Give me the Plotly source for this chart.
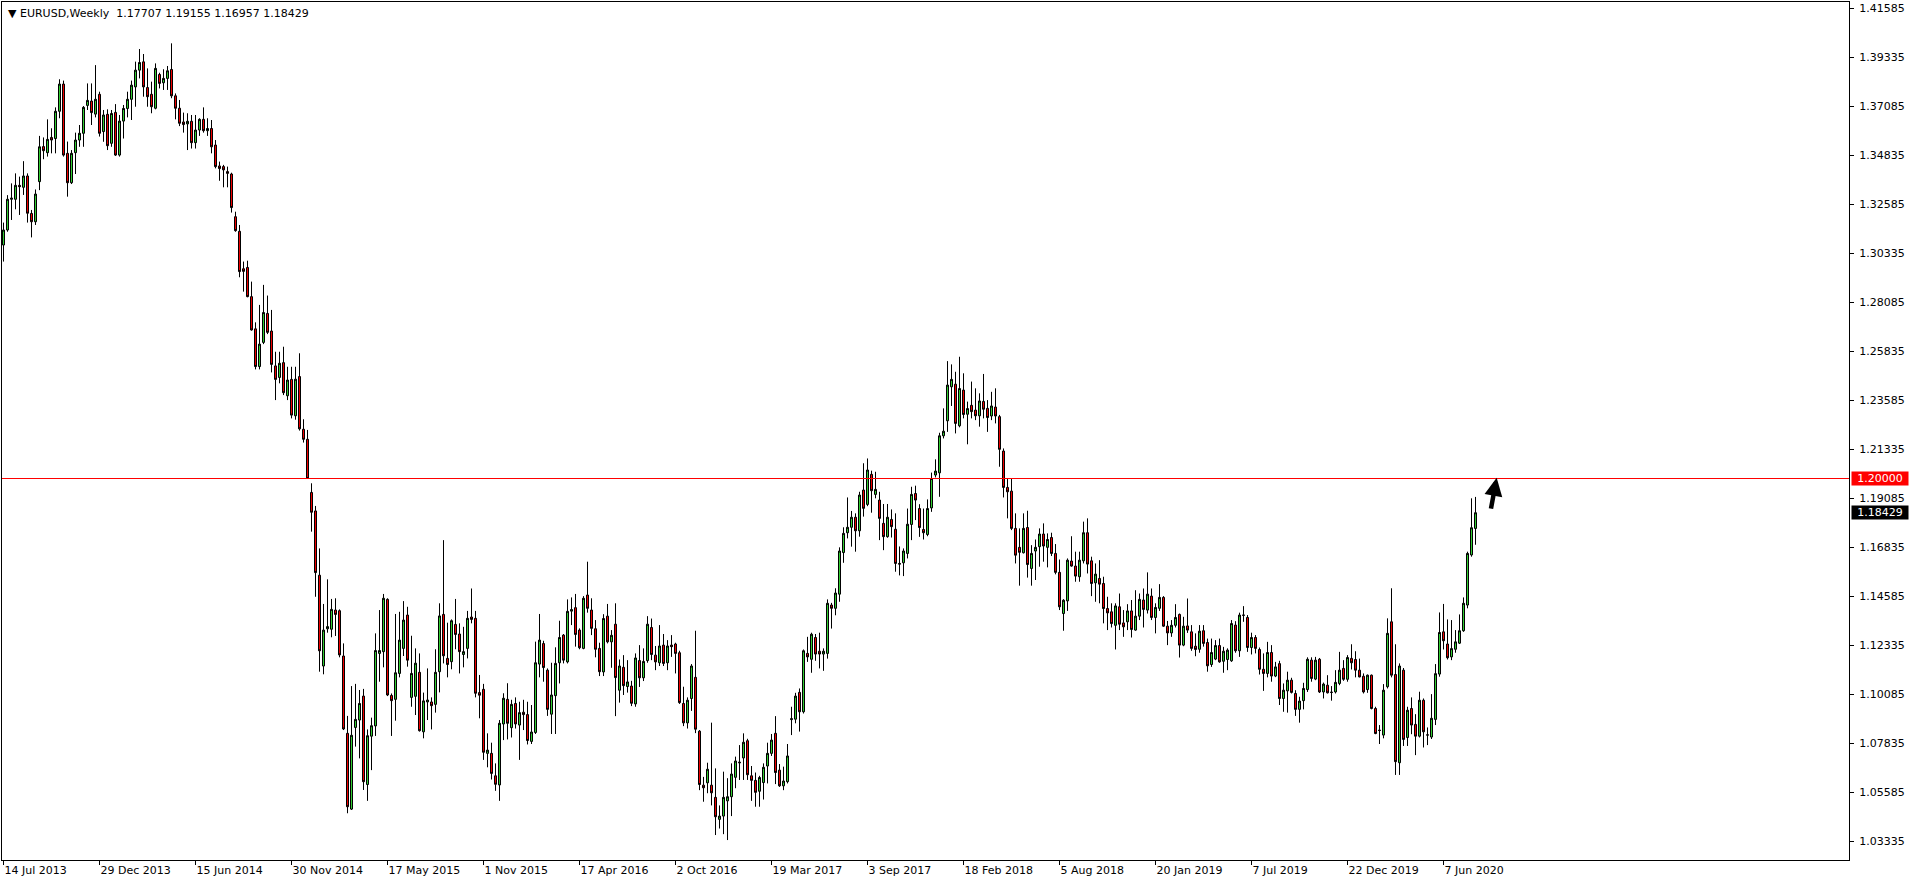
import plotly.graph_objects as go

# ---------------- data (EURUSD weekly) ----------------
opens = [
1.3072,1.3141,1.3282,1.3282,1.3346,1.3337,1.3389,1.3217,1.3179,1.3363,
1.3524,1.3496,1.3566,1.3561,1.3686,1.3811,1.3493,1.3358,1.3496,1.3554,
1.3585,1.3713,1.3733,1.3673,1.3764,1.3593,1.3672,1.3539,1.3681,1.3485,
1.3641,1.3699,1.3741,1.3798,1.3875,1.3913,1.3795,1.3764,1.3700,1.3855,
1.3817,1.3837,1.3878,1.3757,1.3700,1.3637,1.3628,1.3640,1.3542,1.3600,
1.3649,1.3597,1.3607,1.3531,1.3435,1.3432,1.3409,1.3398,1.3202,1.3135,
1.2963,1.2969,1.2835,1.2687,1.2514,1.2625,1.2758,1.2677,1.2517,1.2464,
1.2532,1.2380,1.2455,1.2288,1.2468,1.2226,1.2180,1.1936,1.1851,1.1556,
1.1139,1.1310,1.1308,1.1396,1.1393,1.1185,1.0830,1.0482,1.0857,1.0891,
1.1001,1.0595,1.0817,1.0864,1.1197,1.1205,1.1445,1.1004,1.0986,1.1105,
1.1220,1.1373,1.0995,1.1000,1.1110,1.0837,1.0974,1.0974,1.0963,1.1113,
1.1376,1.1174,1.1159,1.1330,1.1286,1.1192,1.1220,1.1364,1.1358,1.1017,
1.1032,1.0738,1.0738,1.0635,1.0593,1.0873,1.0986,1.0856,1.0967,1.0868,
1.0927,1.0916,1.0793,1.0834,1.1148,1.1242,1.1120,1.0918,1.1003,1.1154,
1.1281,1.1158,1.1391,1.1407,1.1304,1.1220,1.1465,1.1396,1.1310,1.1220,
1.1112,1.1368,1.1250,1.1331,1.1028,1.1133,1.1045,1.1047,1.0965,1.1164,
1.1085,1.1164,1.1316,1.1189,1.1154,1.1235,1.1154,1.1235,1.1240,1.1200,
1.0967,1.0878,1.0990,1.1087,1.0840,1.0592,1.0603,1.0592,1.0536,1.0435,
1.0450,1.0520,1.0539,1.0628,1.0698,1.0717,1.0796,1.0635,1.0614,1.0564,
1.0604,1.0680,1.0738,1.0830,1.0661,1.0589,1.0608,1.0893,1.0895,1.1018,
1.0929,1.1197,1.1170,1.1270,1.1207,1.1194,1.1197,1.1419,1.1404,1.1469,
1.1660,1.1751,1.1776,1.1822,1.1760,1.1947,1.1881,1.2019,1.1927,1.1901,
1.1794,1.1733,1.1812,1.1767,1.1610,1.1613,1.1656,1.1789,1.1931,1.1862,
1.1766,1.1743,1.1865,1.2016,1.2026,1.2196,1.2265,1.2421,1.2433,1.2242,
1.2406,1.2295,1.2336,1.2314,1.2288,1.2354,1.2322,1.2287,1.2328,1.2284,
1.2126,1.1959,1.1942,1.1771,1.1684,1.1659,1.1775,1.1587,1.1667,1.1687,
1.1745,1.1684,1.1729,1.1656,1.1569,1.1380,1.1438,1.1621,1.1598,1.1549,
1.1622,1.1751,1.1622,1.1521,1.1541,1.1518,1.1403,1.1388,1.1326,1.1411,
1.1337,1.1342,1.1392,1.1304,1.1368,1.1442,1.1396,1.1460,1.1362,1.1404,
1.1454,1.1322,1.1291,1.1326,1.1376,1.1235,1.1323,1.1296,1.1230,1.1216,
1.1301,1.1247,1.1146,1.1171,1.1233,1.1161,1.1169,1.1163,1.1327,1.1209,
1.1373,1.1362,1.1224,1.1270,1.1215,1.1124,1.1105,1.1201,1.1093,1.1150,
1.0990,1.1025,1.1074,1.1013,1.0940,1.0980,1.1031,1.1166,1.1079,1.1170,
1.1020,1.1051,1.1019,1.1020,1.1059,1.1128,1.1078,1.1174,1.1169,1.1120,
1.1092,1.1031,1.1097,1.0944,1.0845,1.0822,1.1044,1.1342,1.1100,1.0695,
1.1120,1.0811,1.0944,1.0871,1.0817,1.0982,1.0823,1.0813,1.0894,1.1102,
1.1296,1.1240,1.1181,1.1216,1.1244,1.1301,1.1419,1.1649,1.17707,
]
highs = [
1.3175,1.3301,1.3355,1.3401,1.3386,1.3457,1.3401,1.3233,1.3327,1.3573,
1.3566,1.3649,1.3608,1.3704,1.3833,1.3827,1.3547,1.3508,1.3588,1.3623,
1.3710,1.3814,1.3814,1.3898,1.3776,1.3692,1.3695,1.3692,1.3719,1.3669,
1.3715,1.3776,1.3827,1.3914,1.3972,1.3949,1.3883,1.3822,1.3906,1.3863,
1.3879,1.3894,1.3998,1.3768,1.3738,1.3680,1.3677,1.3669,1.3669,1.3654,
1.3704,1.3654,1.3646,1.3554,1.3455,1.3440,1.3432,1.3404,1.3225,1.3164,
1.2996,1.3000,1.2904,1.2717,1.2797,1.2889,1.2840,1.2774,1.2582,1.2582,
1.2605,1.2513,1.2513,1.2513,1.2575,1.2272,1.2223,1.1978,1.1874,1.1679,
1.1424,1.1537,1.1447,1.1450,1.1399,1.1243,1.0910,1.1047,1.1057,1.1029,
1.1034,1.0848,1.0902,1.1289,1.1396,1.1470,1.1450,1.1013,1.1378,1.1388,
1.1437,1.1411,1.1278,1.1220,1.1197,1.1017,1.1128,1.0995,1.1216,1.1427,
1.1717,1.1338,1.1353,1.1447,1.1335,1.1319,1.1392,1.1495,1.1392,1.1098,
1.1057,1.0830,1.0787,1.0692,1.0891,1.1014,1.1060,1.0984,1.0995,1.0975,
1.0984,1.0975,1.0960,1.1251,1.1378,1.1255,1.1128,1.1154,1.1225,1.1347,
1.1286,1.1445,1.1454,1.1470,1.1312,1.1460,1.1618,1.1450,1.1350,1.1246,
1.1377,1.1424,1.1304,1.1427,1.1169,1.1189,1.1166,1.1071,1.1197,1.1235,
1.1220,1.1368,1.1357,1.1231,1.1327,1.1286,1.1258,1.1281,1.1246,1.1209,
1.1044,1.0995,1.1148,1.1301,1.0845,1.0630,1.0695,1.0879,1.0669,1.0499,
1.0654,1.0624,1.0692,1.0723,1.0776,1.0830,1.0805,1.0680,1.0650,1.0635,
1.0692,1.0787,1.0827,1.0909,1.0689,1.0677,1.0781,1.0952,1.1016,1.1036,
1.1215,1.1273,1.1292,1.1286,1.1292,1.1220,1.1445,1.1429,1.1496,1.1684,
1.1776,1.1913,1.1851,1.1840,1.1939,1.2070,1.2092,1.2036,1.2031,1.1939,
1.1883,1.1883,1.1858,1.1840,1.1688,1.1679,1.1862,1.1962,1.1967,1.1882,
1.1862,1.1904,1.2027,1.2088,1.2210,1.2322,1.2539,1.2524,1.2490,1.2559,
1.2483,1.2353,1.2445,1.2414,1.2391,1.2480,1.2360,1.2398,1.2414,1.2292,
1.2138,1.2000,1.2000,1.1840,1.1771,1.1840,1.1852,1.1694,1.1720,1.1771,
1.1794,1.1748,1.1751,1.1699,1.1628,1.1446,1.1633,1.1735,1.1664,1.1664,
1.1802,1.1817,1.1641,1.1610,1.1625,1.1549,1.1457,1.1427,1.1427,1.1472,
1.1396,1.1423,1.1442,1.1487,1.1472,1.1495,1.1569,1.1495,1.1427,1.1515,
1.1460,1.1346,1.1350,1.1423,1.1380,1.1365,1.1449,1.1327,1.1289,1.1327,
1.1327,1.1265,1.1265,1.1258,1.1265,1.1227,1.1220,1.1350,1.1345,1.1384,
1.1414,1.1373,1.1292,1.1281,1.1224,1.1197,1.1250,1.1235,1.1158,1.1163,
1.1059,1.1113,1.1085,1.1028,1.0998,1.1062,1.1179,1.1179,1.1181,1.1176,
1.1063,1.1097,1.1047,1.1120,1.1204,1.1166,1.1189,1.1239,1.1207,1.1173,
1.1105,1.1100,1.1100,1.0952,1.0868,1.1056,1.1358,1.1496,1.1239,1.1151,
1.1130,1.0952,1.0995,1.0918,1.1021,1.0990,1.0857,1.1010,1.1148,1.1385,
1.1424,1.1353,1.1350,1.1304,1.1376,1.1454,1.1664,1.1909,1.19155,
]
lows = [
1.2996,1.3133,1.3187,1.3236,1.3210,1.3302,1.3175,1.3107,1.3164,1.3324,
1.3466,1.3478,1.3493,1.3493,1.3654,1.3478,1.3294,1.3352,1.3398,1.3523,
1.3523,1.3692,1.3623,1.3658,1.3570,1.3546,1.3508,1.3523,1.3481,1.3478,
1.3561,1.3658,1.3646,1.3707,1.3837,1.3753,1.3707,1.3677,1.3695,1.3791,
1.3784,1.3784,1.3746,1.3649,1.3618,1.3588,1.3508,1.3515,1.3515,1.3573,
1.3588,1.3573,1.3493,1.3424,1.3367,1.3337,1.3337,1.3221,1.3133,1.2924,
1.2858,1.2832,1.2679,1.2501,1.2501,1.2617,1.2663,1.2487,1.2360,1.2437,
1.2383,1.2360,1.2276,1.2270,1.2220,1.2165,1.1998,1.1756,1.1457,1.1113,
1.1101,1.1292,1.1271,1.1277,1.1179,1.0845,1.0463,1.0478,1.0769,1.0715,
1.0570,1.0520,1.0661,1.0818,1.1067,1.1133,1.1001,1.0818,1.0888,1.1087,
1.1185,1.1136,1.0952,1.0914,1.0838,1.0807,1.0891,1.0848,1.0925,1.1018,
1.1151,1.1087,1.1124,1.1216,1.1105,1.1133,1.1174,1.1335,1.0995,1.0899,
1.0708,1.0674,1.0618,1.0566,1.0520,1.0799,1.0802,1.0811,1.0852,1.0708,
1.0845,1.0779,1.0781,1.0827,1.1087,1.1067,1.0910,1.0827,1.0827,1.1059,
1.1151,1.1151,1.1327,1.1228,1.1216,1.1216,1.1384,1.1281,1.1179,1.1093,
1.1093,1.1243,1.1131,1.0909,1.0971,1.1006,1.1017,1.0955,1.0952,1.1043,
1.1070,1.1154,1.1166,1.1120,1.1139,1.1139,1.1120,1.1181,1.1105,1.0965,
1.0863,1.0852,1.0933,1.0831,1.0569,1.0516,1.0555,1.0499,1.0363,1.0393,
1.0367,1.0340,1.0450,1.0578,1.0616,1.0616,1.0616,1.0520,1.0493,1.0493,
1.0526,1.0600,1.0726,1.0597,1.0584,1.0569,1.0600,1.0822,1.0876,1.0838,
1.0921,1.1158,1.1108,1.1163,1.1128,1.1117,1.1173,1.1311,1.1372,1.1434,
1.1613,1.1725,1.1687,1.1664,1.1733,1.1825,1.1873,1.1843,1.1909,1.1717,
1.1671,1.1728,1.1729,1.1572,1.1555,1.1552,1.1633,1.1717,1.1809,1.1732,
1.1720,1.1735,1.1847,1.2005,1.1916,1.2184,1.2214,1.2333,1.2207,1.2235,
1.2276,1.2157,1.2276,1.2268,1.2238,1.2276,1.2214,1.2268,1.2253,1.2054,
1.1913,1.1817,1.1763,1.1610,1.1508,1.1656,1.1545,1.1508,1.1534,1.1595,
1.1618,1.1592,1.1644,1.1560,1.1396,1.1301,1.1392,1.1595,1.1526,1.1526,
1.1610,1.1564,1.1460,1.1434,1.1427,1.1335,1.1304,1.1316,1.1215,1.1304,
1.1273,1.1304,1.1270,1.1301,1.1350,1.1316,1.1380,1.1350,1.1289,1.1392,
1.1319,1.1235,1.1273,1.1316,1.1178,1.1230,1.1291,1.1209,1.1184,1.1200,
1.1228,1.1113,1.1135,1.1166,1.1154,1.1108,1.1120,1.1158,1.1200,1.1181,
1.1342,1.1204,1.1192,1.1197,1.1100,1.1025,1.1087,1.1067,1.1088,1.0960,
1.0929,1.0925,1.1013,1.0910,1.0879,1.0940,1.1020,1.1067,1.1074,1.1015,
1.0990,1.1013,1.0980,1.1013,1.1051,1.1071,1.1067,1.1123,1.1087,1.1087,
1.1013,1.1016,1.0940,1.0826,1.0781,1.0807,1.1036,1.1087,1.0639,1.0639,
1.0772,1.0772,1.0826,1.0730,1.0811,1.0765,1.0776,1.0804,1.0868,1.1090,
1.1215,1.1169,1.1166,1.1200,1.1240,1.1296,1.1404,1.1641,1.16957,
]
closes = [
1.3141,1.3282,1.3287,1.3346,1.3340,1.3389,1.3218,1.3179,1.3306,1.3523,
1.3505,1.3557,1.3554,1.3686,1.3811,1.3485,1.3358,1.3493,1.3554,1.3585,
1.3704,1.3736,1.3680,1.3741,1.3585,1.3669,1.3528,1.3676,1.3485,1.3641,
1.3699,1.3741,1.3806,1.3875,1.3910,1.3798,1.3753,1.3707,1.3883,1.3814,
1.3837,1.3872,1.3757,1.3700,1.3631,1.3625,1.3640,1.3542,1.3600,1.3649,
1.3597,1.3607,1.3523,1.3432,1.3423,1.3417,1.3401,1.3244,1.3138,1.2950,
1.2951,1.2835,1.2682,1.2514,1.2617,1.2762,1.2671,1.2524,1.2455,1.2529,
1.2394,1.2452,1.2291,1.2456,1.2228,1.2180,1.2000,1.1845,1.1568,1.1209,
1.1304,1.1320,1.1399,1.1376,1.1190,1.0850,1.0493,1.0821,1.0894,1.0967,
1.0608,1.0819,1.0865,1.1210,1.1210,1.1450,1.1006,1.0980,1.1108,1.1258,
1.1350,1.1166,1.1105,1.1152,1.0842,1.0979,1.0983,1.0957,1.1110,1.1369,
1.1186,1.1146,1.1347,1.1284,1.1205,1.1205,1.1358,1.1353,1.1014,1.1005,
1.0743,1.0753,1.0646,1.0596,1.0876,1.0991,1.0876,1.0963,1.0873,1.0925,
1.0916,1.0797,1.0836,1.1154,1.1258,1.1132,1.0940,1.1006,1.1151,1.1270,
1.1166,1.1390,1.1398,1.1284,1.1223,1.1450,1.1404,1.1312,1.1216,1.1113,
1.1357,1.1250,1.1280,1.1086,1.1139,1.1049,1.1066,1.0968,1.1176,1.1085,
1.1160,1.1331,1.1192,1.1158,1.1231,1.1151,1.1231,1.1228,1.1197,1.0971,
1.0878,1.0982,1.1139,1.0849,1.0595,1.0580,1.0665,1.0557,1.0447,1.0450,
1.0536,1.0539,1.0643,1.0703,1.0695,1.0789,1.0640,1.0614,1.0559,1.0627,
1.0674,1.0738,1.0799,1.0650,1.0589,1.0611,1.0726,1.0897,1.1001,1.0929,
1.1209,1.1181,1.1285,1.1194,1.1194,1.1207,1.1427,1.1404,1.1474,1.1667,
1.1748,1.1776,1.1822,1.1760,1.1924,1.1863,1.2039,1.1944,1.1950,1.1817,
1.1733,1.1822,1.1779,1.1610,1.1607,1.1667,1.1790,1.1927,1.1901,1.1775,
1.1751,1.1862,1.2000,1.2034,1.2196,1.2217,1.2429,1.2455,1.2253,1.2413,
1.2294,1.2321,1.2307,1.2288,1.2356,1.2318,1.2280,1.2333,1.2287,1.2134,
1.1959,1.1939,1.1771,1.1648,1.1661,1.1771,1.1605,1.1656,1.1684,1.1745,
1.1690,1.1720,1.1656,1.1569,1.1411,1.1441,1.1625,1.1598,1.1552,1.1625,
1.1751,1.1607,1.1518,1.1561,1.1515,1.1403,1.1383,1.1334,1.1415,1.1331,
1.1319,1.1392,1.1307,1.1368,1.1445,1.1399,1.1469,1.1362,1.1408,1.1454,
1.1322,1.1291,1.1326,1.1362,1.1235,1.1322,1.1304,1.1220,1.1215,1.1299,
1.1243,1.1140,1.1201,1.1233,1.1158,1.1207,1.1212,1.1334,1.1209,1.1373,
1.1372,1.1224,1.1270,1.1220,1.1124,1.1105,1.1201,1.1093,1.1135,1.0990,
1.1028,1.1074,1.1018,1.0940,1.0978,1.1036,1.1170,1.1082,1.1166,1.1020,
1.1056,1.1016,1.1018,1.1064,1.1120,1.1078,1.1178,1.1154,1.1120,1.1089,
1.1020,1.1097,1.0944,1.0829,1.0843,1.1028,1.1289,1.1097,1.0700,1.1139,
1.0802,1.0936,1.0868,1.0817,1.0982,1.0837,1.0822,1.0899,1.1104,1.1293,
1.1255,1.1177,1.1219,1.1250,1.1301,1.1427,1.1656,1.1774,1.18429,
]

date_ticks = [0, 24, 48, 72, 96, 120, 144, 168, 192, 216, 240, 264, 288, 312, 336, 360]
date_labels = ["14 Jul 2013", "29 Dec 2013", "15 Jun 2014", "30 Nov 2014", "17 May 2015",
               "1 Nov 2015", "17 Apr 2016", "2 Oct 2016", "19 Mar 2017", "3 Sep 2017",
               "18 Feb 2018", "5 Aug 2018", "20 Jan 2019", "7 Jul 2019", "22 Dec 2019",
               "7 Jun 2020"]
price_ticks = [1.03335, 1.05585, 1.07835, 1.10085, 1.12335, 1.14585, 1.16835, 1.19085,
               1.21335, 1.23585, 1.25835, 1.28085, 1.30335, 1.32585, 1.34835, 1.37085,
               1.39335, 1.41585]
level_price = 1.20000
last_price = 1.18429
title_text = "EURUSD,Weekly  1.17707 1.19155 1.16957 1.18429"

# ---------------- figure ----------------
FONT = "DejaVu Sans"
x = list(range(len(closes)))

fig = go.Figure()
fig.add_trace(go.Candlestick(
    x=x, open=opens, high=highs, low=lows, close=closes,
    increasing=dict(line=dict(color="#000000", width=1), fillcolor="#32cd32"),
    decreasing=dict(line=dict(color="#000000", width=1), fillcolor="#ee0000"),
    whiskerwidth=0, showlegend=False, hoverinfo="skip",
))

# horizontal level line
fig.add_shape(type="line", xref="paper", x0=0, x1=1, yref="y", y0=level_price, y1=level_price,
              line=dict(color="#ff0000", width=1), layer="above")

# price boxes on the axis
fig.add_annotation(xref="paper", x=1, xanchor="left", xshift=2, yref="y", y=level_price,
                   text="1.20000", showarrow=False, bgcolor="#ff0000",
                   font=dict(family=FONT, size=11, color="#ffffff"),
                   width=54, height=11, borderpad=1, align="center")
fig.add_annotation(xref="paper", x=1, xanchor="left", xshift=2, yref="y", y=last_price,
                   text="1.18429", showarrow=False, bgcolor="#000000",
                   font=dict(family=FONT, size=11, color="#ffffff"),
                   width=54, height=11, borderpad=1, align="center")

# hand-drawn style arrow pointing at the level
fig.add_annotation(x=373.3, y=1.2003, ax=371.8, ay=1.1855, xref="x", yref="y",
                   axref="x", ayref="y", text="", showarrow=True,
                   arrowhead=2, arrowsize=0.8, arrowwidth=4.5, arrowcolor="#000000")

# title
fig.add_annotation(xref="paper", yref="paper", x=0, y=1, xshift=4, yshift=-3,
                   xanchor="left", yanchor="top", showarrow=False,
                   text="\u25bc " + title_text,
                   font=dict(family=FONT, size=11, color="#000000"))

fig.update_layout(
    width=1916, height=884,
    margin=dict(l=2, r=67, t=2, b=24, pad=0),
    paper_bgcolor="#ffffff", plot_bgcolor="#ffffff",
    font=dict(family=FONT, size=11, color="#000000"),
    showlegend=False,
    boxgap=0.5, boxgroupgap=0,
    xaxis=dict(
        range=[-0.375, 461.375], rangeslider=dict(visible=False),
        showgrid=False, zeroline=False,
        showline=True, linecolor="#000000", linewidth=1, mirror=True,
        tickmode="array", tickvals=date_ticks, ticktext=date_labels,
        ticks="outside", ticklen=4, tickcolor="#000000", tickwidth=1,
        ticklabelposition="outside right",
        tickfont=dict(family=FONT, size=11, color="#000000"),
    ),
    yaxis=dict(
        range=[1.02484, 1.41878], side="right",
        showgrid=False, zeroline=False,
        showline=True, linecolor="#000000", linewidth=1, mirror=True,
        tickmode="array", tickvals=price_ticks,
        ticktext=[f"{v:.5f}" for v in price_ticks],
        ticks="outside", ticklen=4, tickcolor="#000000", tickwidth=1,
        ticklabelstandoff=3,
        tickfont=dict(family=FONT, size=11, color="#000000"),
    ),
)

fig.write_html(
    "out.html",
    config={"displayModeBar": False, "staticPlot": True},
    post_script="document.body.style.margin='0';document.body.style.padding='0';"
                "document.body.style.overflow='hidden';",
)
